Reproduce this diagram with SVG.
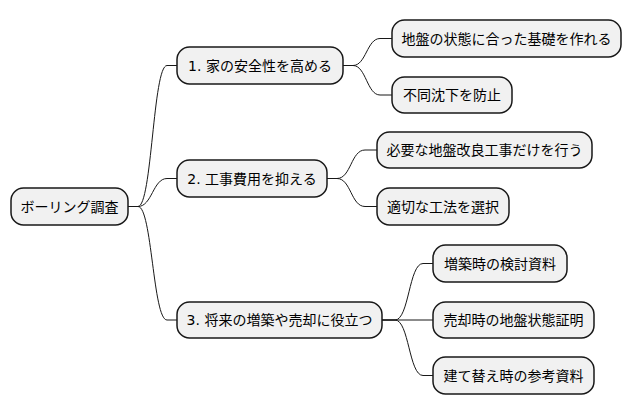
<svg xmlns="http://www.w3.org/2000/svg" width="632" height="415" viewBox="0 0 632 415">
<style>
.box{fill:#F1F1F1;stroke:#181818;stroke-width:1.5}
.t{font-family:"DejaVu Sans","Noto Sans CJK JP",sans-serif;font-size:14px;fill:#000;text-anchor:middle}
.c{fill:none;stroke:#181818;stroke-width:1}
</style>
<rect width="632" height="415" fill="#FFFFFF"/>
<g id="connectors">
<path class="c" d="M128,206.5 H138 C152,206.5 153,65.5 167,65.5 H177"/>
<path class="c" d="M128,206.5 H138 C152,206.5 153,178.5 167,178.5 H177"/>
<path class="c" d="M128,206.5 H138 C152,206.5 153,320 167,320 H177"/>
<path class="c" d="M343,65.5 H353 C366,65.5 367,38.5 380,38.5 H392"/>
<path class="c" d="M343,65.5 H353 C366,65.5 367,95 380,95 H392"/>
<path class="c" d="M327,178.5 H337 C351,178.5 351,150 365,150 H377"/>
<path class="c" d="M327,178.5 H337 C351,178.5 351,206.5 365,206.5 H377"/>
<path class="c" d="M382,320 H395 C409,320 409,263.5 423,263.5 H433"/>
<path class="c" d="M382,320 H433"/>
<path class="c" d="M382,320 H395 C409,320 409,375.5 423,375.5 H433"/>
</g>
<g id="root"><rect class="box" x="11" y="188" width="117" height="37" rx="12.5"/><text class="t" x="69.5" y="211.5">ボーリング調査</text></g>
<g id="n1"><rect class="box" x="177" y="47" width="166" height="37" rx="12.5"/><text class="t" x="260" y="70.5">1. 家の安全性を高める</text></g>
<g id="n2"><rect class="box" x="177" y="160" width="150" height="37" rx="12.5"/><text class="t" x="252" y="183.5">2. 工事費用を抑える</text></g>
<g id="n3"><rect class="box" x="177" y="302" width="205" height="36" rx="12.5"/><text class="t" x="279.5" y="325">3. 将来の増築や売却に役立つ</text></g>
<g id="n1a"><rect class="box" x="392" y="20" width="229" height="37" rx="12.5"/><text class="t" x="506.5" y="43.5">地盤の状態に合った基礎を作れる</text></g>
<g id="n1b"><rect class="box" x="392" y="77" width="120" height="36" rx="12.5"/><text class="t" x="452" y="100">不同沈下を防止</text></g>
<g id="n2a"><rect class="box" x="377" y="132" width="215" height="36" rx="12.5"/><text class="t" x="484.5" y="155">必要な地盤改良工事だけを行う</text></g>
<g id="n2b"><rect class="box" x="377" y="188" width="132" height="37" rx="12.5"/><text class="t" x="443" y="211.5">適切な工法を選択</text></g>
<g id="n3a"><rect class="box" x="433" y="245" width="134" height="37" rx="12.5"/><text class="t" x="500" y="268.5">増築時の検討資料</text></g>
<g id="n3b"><rect class="box" x="433" y="302" width="161" height="36" rx="12.5"/><text class="t" x="513.5" y="325">売却時の地盤状態証明</text></g>
<g id="n3c"><rect class="box" x="433" y="357" width="161" height="37" rx="12.5"/><text class="t" x="513.5" y="380.5">建て替え時の参考資料</text></g>
</svg>
